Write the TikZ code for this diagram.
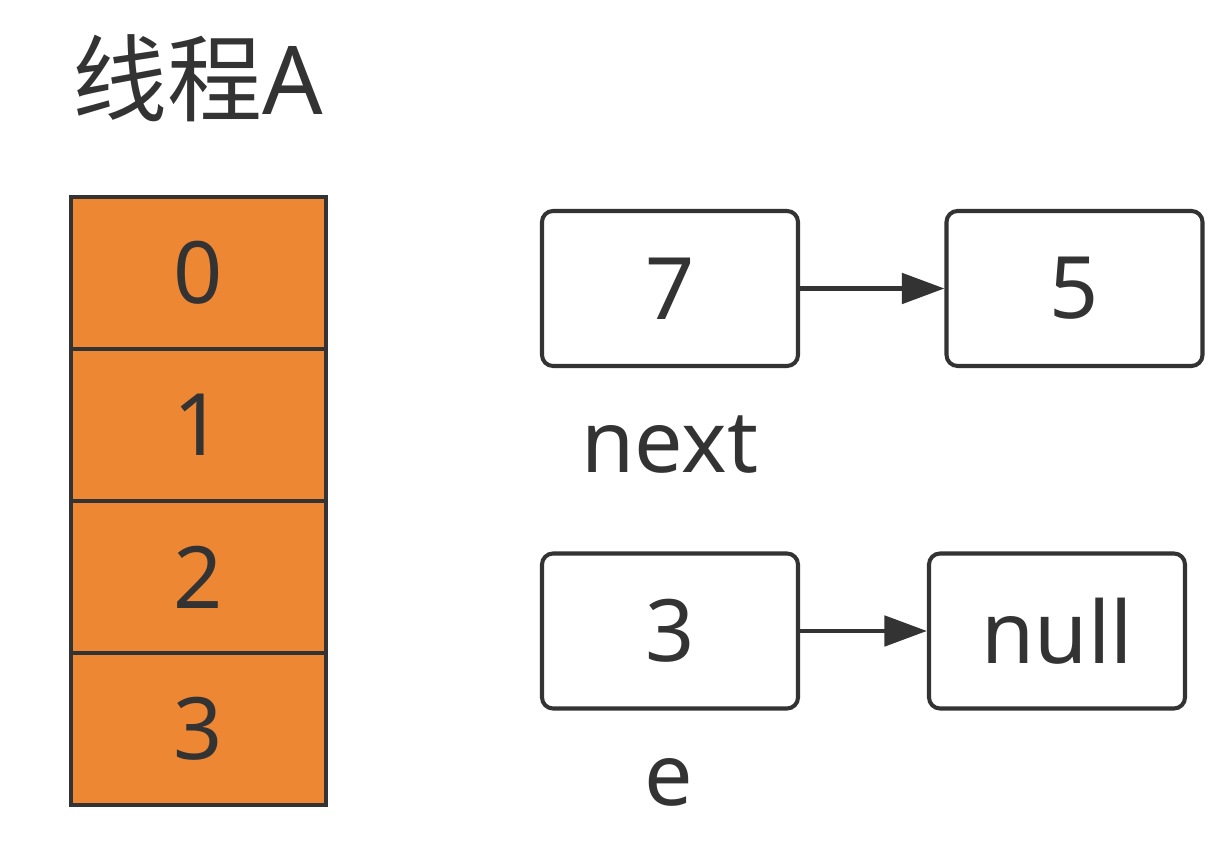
\documentclass[tikz,border=0pt]{standalone}
\usepackage{fontspec}
\setmainfont{Noto Sans}
\newfontfamily\cjk{Noto Sans CJK SC}
\usepackage{xcolor}
\usetikzlibrary{arrows.meta, positioning}
\definecolor{cellorange}{RGB}{238,135,52}
\definecolor{linegray}{RGB}{51,51,51}
\definecolor{textgray}{RGB}{51,51,51}

\begin{document}
\begin{tikzpicture}[
  every node/.style={font=\fontsize{49}{58}\selectfont, text=textgray},
  cell/.style={draw=linegray, line width=2.3pt, fill=cellorange,
               minimum width=5.1cm, minimum height=3.04cm, inner sep=0pt},
  entry/.style={draw=linegray, line width=2.3pt, rounded corners=0.22cm, fill=white,
                minimum width=5.12cm, minimum height=3.1cm, inner sep=0pt},
  arr/.style={-{Triangle[length=0.85cm, width=0.6cm]}, line width=2.8pt, draw=linegray},
]
\useasboundingbox (0,0) rectangle (24.56,17.12);

%% ── TITLE ─────────────────────────────────────────────────────────────
\node[font=\fontsize{54}{64}\selectfont] (title) at (3.96, 15.55) {{\cjk 线程}A};

%% ── TABLE ─────────────────────────────────────────────────────────────
\node[cell] (cell0) at (3.97, 11.66) {0};
\node[cell] (cell1) at (3.97,  8.62) {1};
\node[cell] (cell2) at (3.97,  5.58) {2};
\node[cell] (cell3) at (3.97,  2.54) {3};

%% ── LIST: next ────────────────────────────────────────────────────────
\node[entry] (seven) at (13.40, 11.35) {7};
\node[entry] (five)  at (21.49, 11.35) {5};
\node (nextlbl) at (13.40, 8.22) {next};

%% ── LIST: e ───────────────────────────────────────────────────────────
\node[entry] (three) at (13.40, 4.50) {3};
\node[entry] (null)  at (21.14, 4.50) {null};
\node (elbl) at (13.38, 1.48) {e};

%% ARROWS
\draw[arr] (seven.east) -- (five.west);
\draw[arr] (three.east) -- (null.west);

\end{tikzpicture}
\end{document}
